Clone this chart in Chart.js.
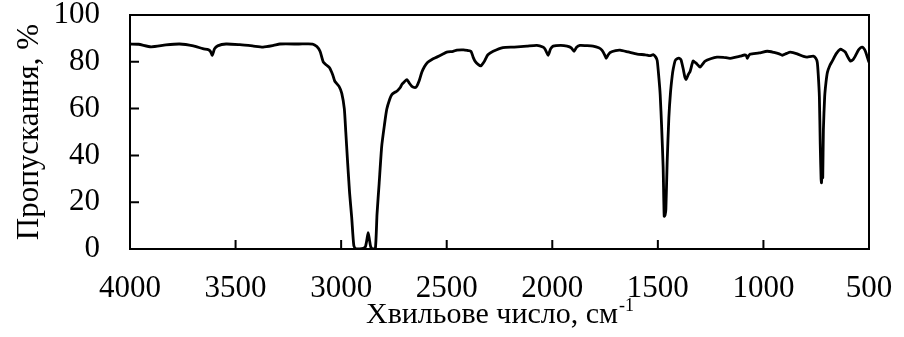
<!DOCTYPE html>
<html>
<head>
<meta charset="utf-8">
<script src="https://cdn.jsdelivr.net/npm/chart.js@4/dist/chart.umd.min.js"></script>
<style>
  html, body { margin: 0; padding: 0; background: #fff; }
  #wrap { width: 904px; height: 337px; }
</style>
</head>
<body>
<div id="wrap"><canvas id="irChart"></canvas></div>
<script>
//-------------------data--------------------
const xTickValues = [4000, 3500, 3000, 2500, 2000, 1500, 1000, 500];
const yTickValues = [0, 20, 40, 60, 80, 100];

const wavenumbers = [
  4000, 3960, 3900, 3830, 3765, 3700, 3655, 3630, 3620, 3610, 3600, 3585, 3545,
  3480, 3420, 3370, 3320, 3290, 3200, 3135, 3115, 3100, 3085, 3070, 3055, 3040,
  3030, 3010, 2997, 2985, 2978, 2970, 2960, 2950, 2940, 2930, 2912, 2895, 2885,
  2878, 2872, 2866, 2860, 2850, 2838, 2830, 2820, 2808, 2795, 2784, 2770, 2760,
  2745, 2736, 2720, 2712, 2700, 2689, 2678, 2665, 2650, 2642, 2630, 2618, 2605,
  2590, 2570, 2547, 2520, 2500, 2470, 2452, 2420, 2400, 2385, 2375, 2366, 2350,
  2338, 2320, 2305, 2280, 2234, 2180, 2120, 2073, 2045, 2034, 2020, 2008, 1996,
  1960, 1930, 1910, 1897, 1885, 1869, 1840, 1807, 1780, 1765, 1752, 1745, 1735,
  1726, 1700, 1679, 1640, 1598, 1560, 1537, 1522, 1510, 1503, 1495, 1489, 1482,
  1475, 1470, 1466, 1462, 1456, 1448, 1440, 1432, 1427, 1418, 1409, 1398, 1390,
  1380, 1372, 1366, 1356, 1347, 1333, 1322, 1314, 1300, 1288, 1276, 1250, 1220,
  1190, 1158, 1130, 1110, 1090, 1080, 1077, 1070, 1063, 1020, 982, 950, 925,
  911, 890, 873, 840, 810, 793, 764, 752, 745, 740, 735, 731, 727, 725, 723,
  721, 719, 716, 710, 704, 697, 685, 674, 655, 636, 625, 612, 600, 588, 575,
  565, 550, 540, 532, 525, 517, 508, 500
];
const transmittance = [
  87.6, 87.5, 86.4, 87.2, 87.6, 86.8, 85.6, 85.2, 84.6, 82.8, 85.5, 86.8, 87.6,
  87.3, 86.8, 86.3, 87.0, 87.6, 87.6, 87.6, 86.5, 84.5, 80.0, 78.6, 77.5, 74.5,
  71.7, 69.5, 66.5, 60, 50, 38, 24, 13.5, 1.5, 0, 0, 0.3, 1,
  4, 7, 4, 1, 0, 0, 15, 28, 43.8, 53, 59.7, 64, 66,
  67, 67.4, 69, 70.4, 71.5, 72.4, 71, 69.5, 69, 69.5, 72, 75.5, 78,
  79.8, 81, 82, 83.2, 84.1, 84.5, 85, 85.1, 84.8, 84.5, 82, 80.3, 78.8,
  78.3, 80.5, 83, 84.5, 86.1, 86.3, 86.7, 87, 86.3, 85.4, 82.8, 85.5, 86.7,
  87, 86.7, 86, 84.5, 86.2, 87, 86.9, 86.7, 86, 85, 83, 81.5, 83,
  84, 84.8, 85, 84.2, 83.3, 83, 82.6, 83.1, 82, 80.5, 73, 66, 52,
  35, 14, 14.5, 17, 37, 56, 67, 74, 77, 80.5, 81.3, 81.5, 80.8,
  77, 73.5, 72.5, 74.5, 76, 80.3, 79.6, 79, 77.7, 79, 80.3, 81.3, 82,
  81.9, 81.5, 82, 82.4, 82.9, 82.5, 81.5, 82.6, 83.3, 83.8, 84.5, 84, 83.4,
  82.8, 83.6, 84.1, 83.4, 82.3, 82, 82.4, 81.5, 79.8, 74, 65, 45, 30, 28.3, 32,
  34, 30.5, 51, 65, 71, 75.5, 78.5, 80.3, 83.5, 85.4, 85, 84.1, 82, 80.3, 81,
  82.4, 85, 86, 86.3, 85.8, 84.5, 82, 79.8
];
//-------------------data--------------------

const FONT = "'Liberation Serif', 'Times New Roman', serif";

//-------------------inside ticks + frame--------------------
const frameAndTicks = {
  id: "frameAndTicks",
  afterDatasetsDraw(chart) {
    const { ctx, chartArea: a, scales } = chart;
    ctx.save();
    ctx.strokeStyle = "#000";
    ctx.lineWidth = 2;
    ctx.strokeRect(a.left, a.top, a.right - a.left, a.bottom - a.top);
    ctx.beginPath();
    xTickValues.forEach((v) => {
      const px = scales.x.getPixelForValue(v);
      ctx.moveTo(px, a.bottom);
      ctx.lineTo(px, a.bottom - 9);
    });
    yTickValues.forEach((v) => {
      const py = scales.y.getPixelForValue(v);
      ctx.moveTo(a.left, py);
      ctx.lineTo(a.left + 9, py);
    });
    ctx.stroke();
    ctx.restore();
  },
};

//-------------------x title with superscript--------------------
const xTitle = {
  id: "xTitle",
  afterDraw(chart) {
    const { ctx, chartArea: a, scales } = chart;
    const main = "Хвильове число, см";
    const sup = "-1";
    ctx.save();
    ctx.fillStyle = "#000";
    ctx.textBaseline = "alphabetic";
    ctx.font = "30px " + FONT;
    const w1 = ctx.measureText(main).width;
    ctx.font = "18px " + FONT;
    const w2 = ctx.measureText(sup).width;
    const cx = (a.left + a.right) / 2;
    const x0 = cx - (w1 + w2) / 2;
    const base = scales.x.bottom - 14;
    ctx.font = "30px " + FONT;
    ctx.fillText(main, x0, base);
    ctx.font = "18px " + FONT;
    ctx.fillText(sup, x0 + w1 + 1, base - 12);
    ctx.restore();
  },
};

const points = wavenumbers.map((w, i) => ({ x: w, y: transmittance[i] }));

new Chart(document.getElementById("irChart"), {
  type: "scatter",
  data: {
    datasets: [
      {
        data: points,
        showLine: true,
        borderColor: "#000",
        borderWidth: 2.8,
        pointRadius: 0,
        tension: 0.2,
        fill: false,
      },
    ],
  },
  options: {
    responsive: true,
    maintainAspectRatio: false,
    animation: false,
    layout: {
      autoPadding: false,
      padding: { top: 15, right: 35, left: 0, bottom: 0 },
    },
    plugins: {
      legend: { display: false },
      tooltip: { enabled: false },
    },
    scales: {
      x: {
        type: "linear",
        reverse: true,
        min: 500,
        max: 4000,
        grid: { display: false },
        border: { display: false },
        afterBuildTicks: (s) => {
          s.ticks = xTickValues.map((v) => ({ value: v }));
        },
        afterFit: (s) => {
          s.height = 88;
          s.paddingLeft = 0;
          s.paddingRight = 0;
        },
        ticks: {
          color: "#000",
          font: { family: FONT, size: 31 },
          padding: 13,
          maxRotation: 0,
          autoSkip: false,
          callback: (v) => String(v),
        },
      },
      y: {
        min: 0,
        max: 100,
        grid: { display: false },
        border: { display: false },
        afterBuildTicks: (s) => {
          s.ticks = yTickValues.map((v) => ({ value: v }));
        },
        afterFit: (s) => {
          s.width = 130;
          s.paddingTop = 0;
          s.paddingBottom = 0;
        },
        ticks: {
          color: "#000",
          font: { family: FONT, size: 31 },
          padding: 22,
          autoSkip: false,
          callback: (v) => String(v),
        },
        title: {
          display: true,
          text: "Пропускання, %",
          color: "#000",
          font: { family: FONT, size: 31 },
          padding: { top: 11, bottom: 0 },
        },
      },
    },
  },
  plugins: [frameAndTicks, xTitle],
});
</script>
</body>
</html>
